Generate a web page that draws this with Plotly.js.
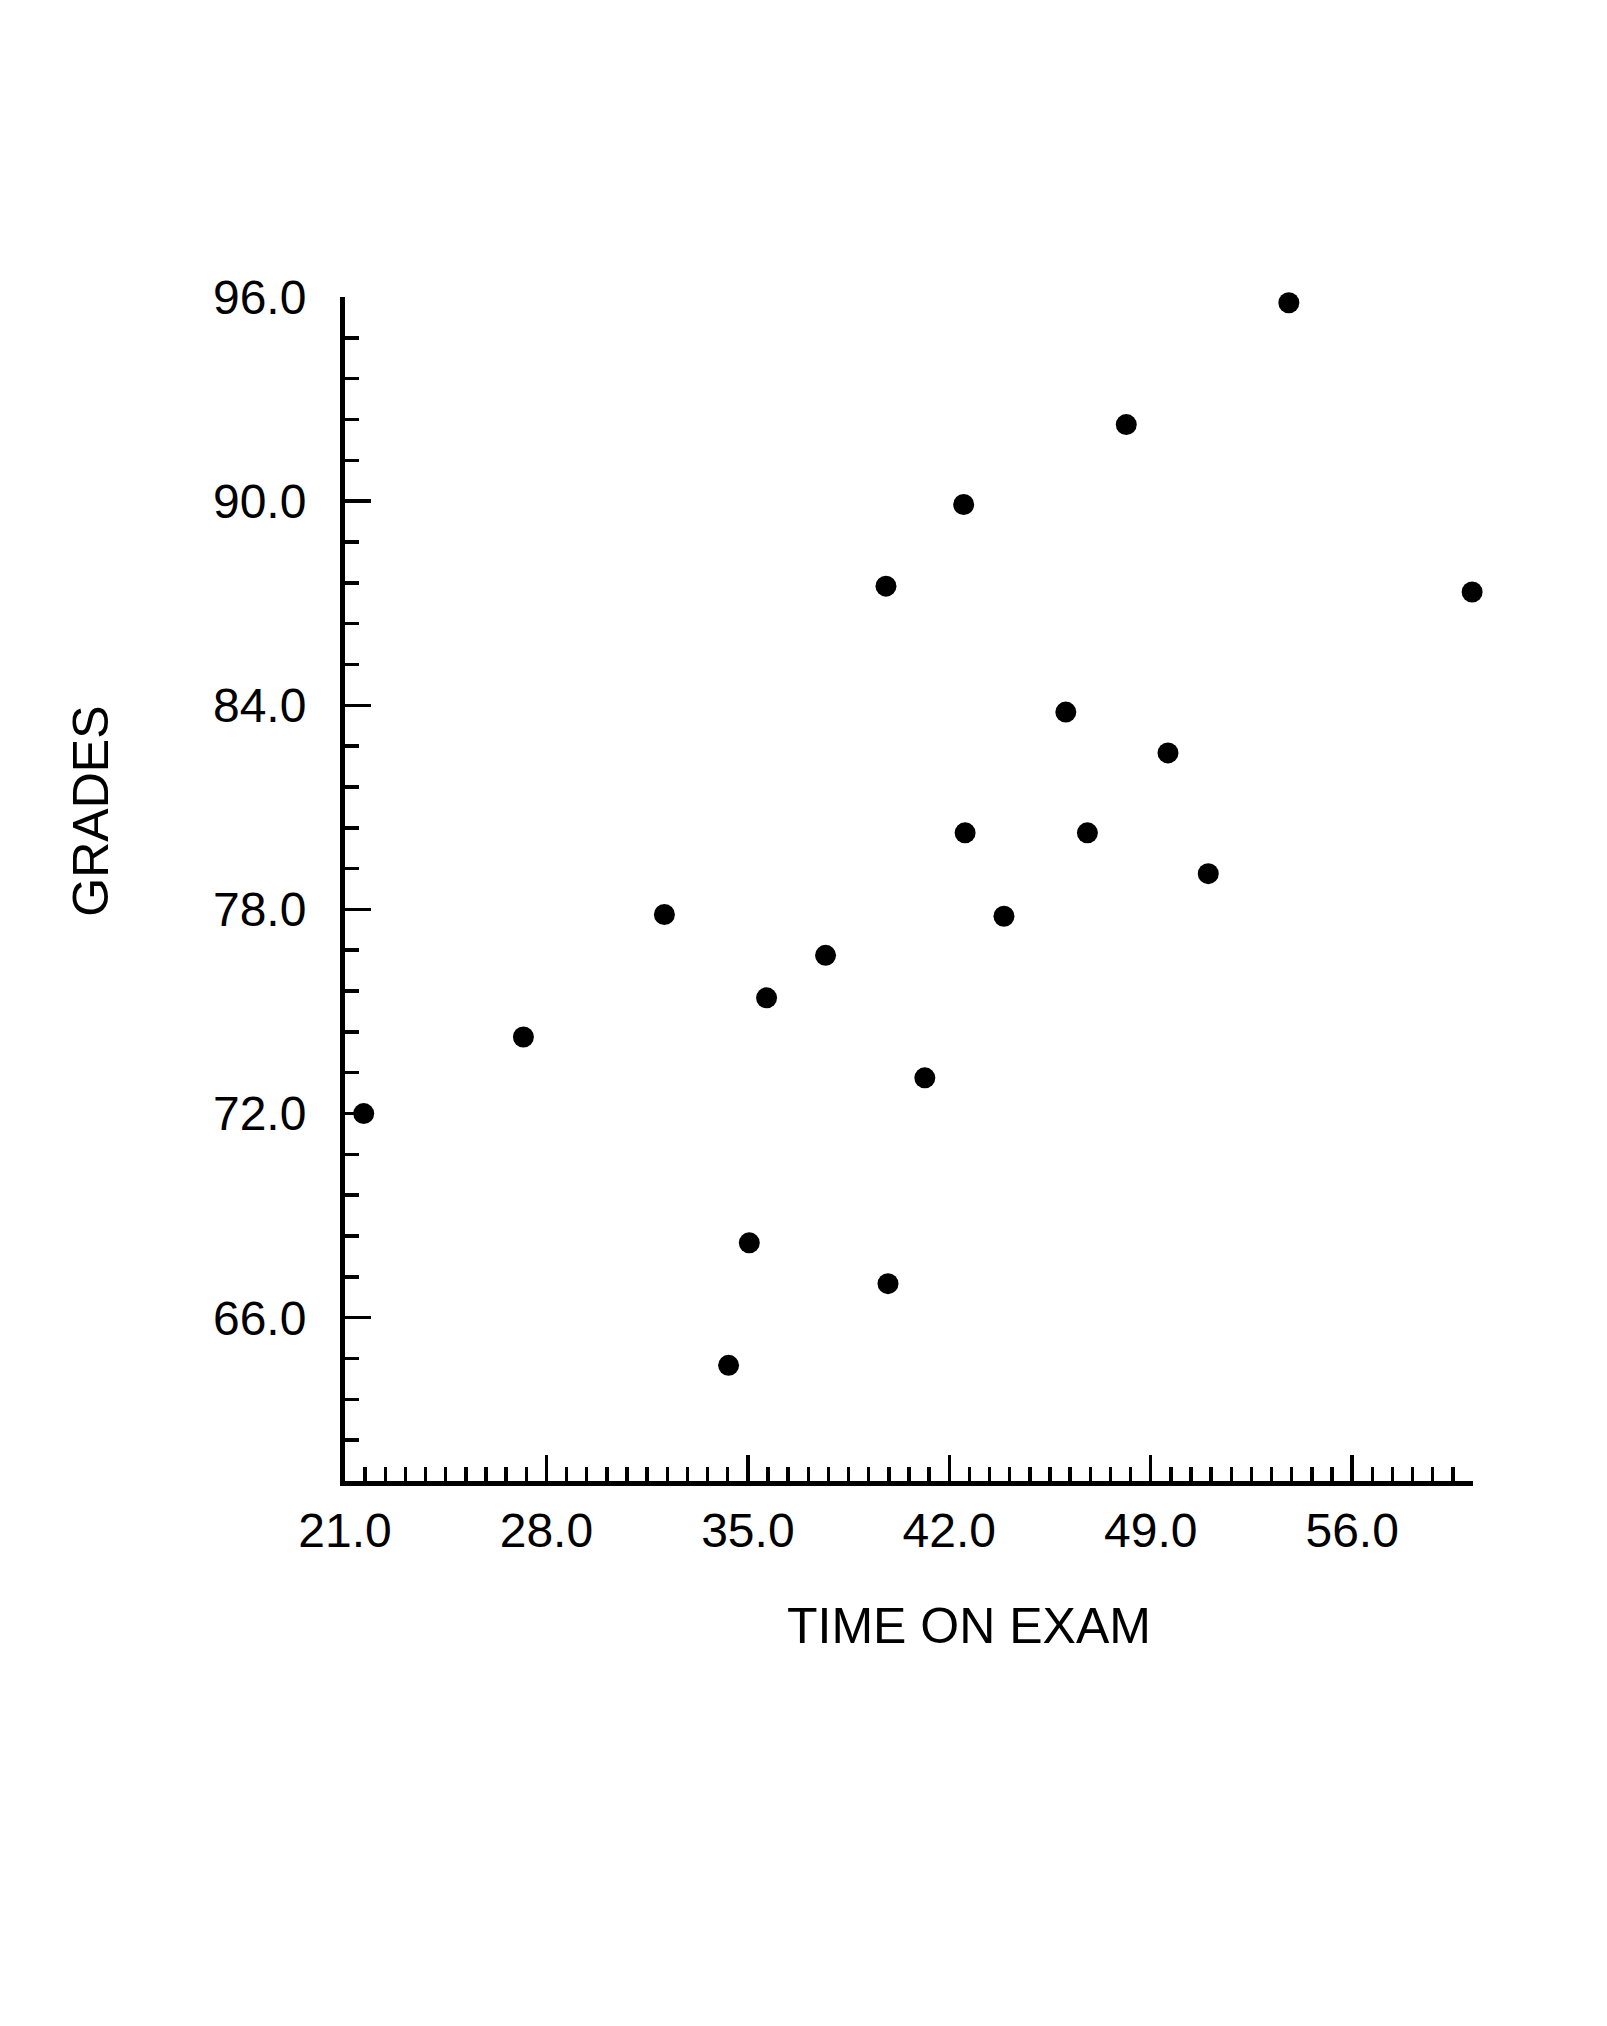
<!DOCTYPE html>
<html>
<head>
<meta charset="utf-8">
<script src="https://cdn.plot.ly/plotly-3.0.1.min.js"></script>
<style>
  html, body { margin: 0; padding: 0; background: #ffffff; }
  #chart { width: 1607px; height: 2026px; }
</style>
</head>
<body>
<div id="chart"></div>
<script>
// Data
const timeOnExam = [21.65, 27.2, 32.1, 34.33, 35.05, 35.65, 37.7, 39.8, 39.87, 41.15, 42.5, 42.55, 43.9, 46.05, 46.8, 48.15, 49.6, 51.0, 53.8, 60.17];
const grades     = [72.0, 74.25, 77.85, 64.6, 68.2, 75.4, 76.65, 87.5, 67.0, 73.05, 89.9, 80.25, 77.8, 83.8, 80.25, 92.25, 82.6, 79.05, 95.83, 87.33];

const xTitle = "TIME ON EXAM";
const yTitle = "GRADES";

const font = "Liberation Sans, Arial, Helvetica, sans-serif";

const trace = {
  type: "scatter",
  mode: "markers",
  x: timeOnExam,
  y: grades,
  cliponaxis: false,
  marker: { size: 21, color: "#000000", line: { width: 0 } },
  hoverinfo: "x+y"
};

const layout = {
  width: 1607,
  height: 2026,
  paper_bgcolor: "#ffffff",
  plot_bgcolor: "#ffffff",
  showlegend: false,
  margin: { l: 345, r: 134, t: 297, b: 545, pad: 0 },
  font: { family: font, color: "#000000", size: 48 },
  xaxis: {
    range: [21, 60.2],
    tick0: 21,
    dtick: 7,
    tickformat: ".1f",
    ticks: "inside",
    ticklen: 26,
    tickwidth: 3.5,
    tickcolor: "#000000",
    showline: true,
    linewidth: 5,
    linecolor: "#000000",
    showgrid: false,
    zeroline: false,
    ticklabelstandoff: 3,
    tickfont: { family: font, size: 48, color: "#000000" },
    minor: { ticks: "inside", ticklen: 14, tickwidth: 3.5, tickcolor: "#000000", tick0: 21, dtick: 0.7, showgrid: false }
  },
  yaxis: {
    range: [61.2, 96],
    tick0: 96,
    dtick: 6,
    tickformat: ".1f",
    ticks: "inside",
    ticklen: 26,
    tickwidth: 3.5,
    tickcolor: "#000000",
    showline: true,
    linewidth: 5,
    linecolor: "#000000",
    showgrid: false,
    zeroline: false,
    ticklabelstandoff: 24,
    tickfont: { family: font, size: 48, color: "#000000" },
    minor: { ticks: "inside", ticklen: 14, tickwidth: 3.5, tickcolor: "#000000", tick0: 96, dtick: 1.2, showgrid: false }
  },
  annotations: [
    {
      text: xTitle, xref: "paper", yref: "paper",
      x: 0.553, y: -0.1225, xanchor: "center", yanchor: "middle",
      showarrow: false, font: { family: font, size: 50, color: "#000000" }
    },
    {
      text: yTitle, xref: "paper", yref: "paper",
      x: -0.2247, y: 0.5658, xanchor: "center", yanchor: "middle",
      textangle: -90,
      showarrow: false, font: { family: font, size: 50, color: "#000000" }
    }
  ]
};

Plotly.newPlot("chart", [trace], layout, { staticPlot: true, displayModeBar: false });
</script>
</body>
</html>
